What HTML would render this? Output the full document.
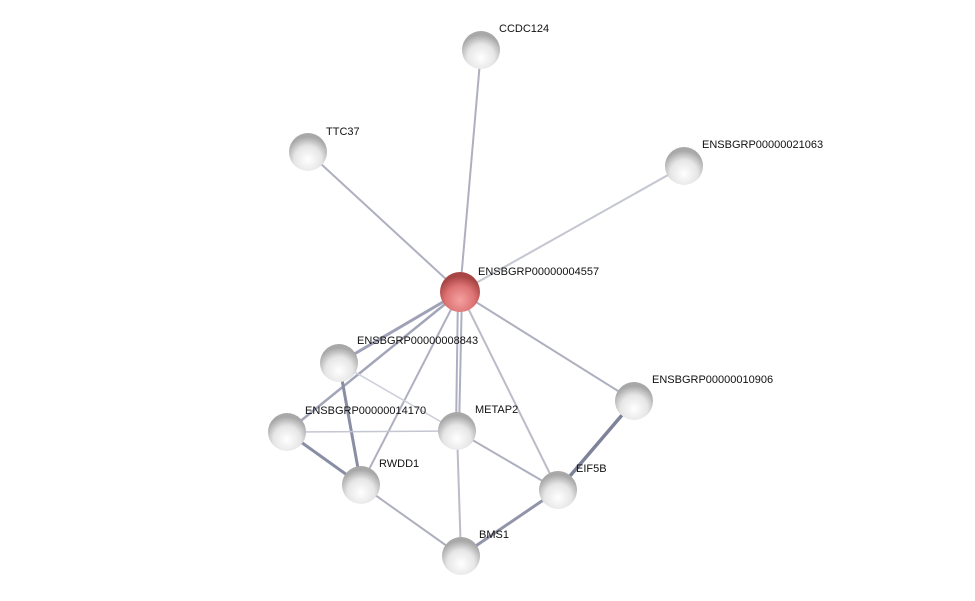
<!DOCTYPE html>
<html><head><meta charset="utf-8"><style>
html,body{margin:0;padding:0;background:#fff;}
svg{display:block;}
text{font-family:"Liberation Sans",sans-serif;font-size:11px;fill:#111;}
</style></head><body>
<svg width="975" height="601" viewBox="0 0 975 601" xmlns="http://www.w3.org/2000/svg">
<defs>
<radialGradient id="g" cx="0.5" cy="0.7" r="0.6">
<stop offset="0" stop-color="#ffffff"/><stop offset="0.6" stop-color="#e6e6e6"/><stop offset="1" stop-color="#a8a8a8"/>
</radialGradient>
<radialGradient id="r" cx="0.5" cy="0.7" r="0.6">
<stop offset="0" stop-color="#f4a0a0"/><stop offset="0.6" stop-color="#dd7373"/><stop offset="1" stop-color="#a84444"/>
</radialGradient>
<linearGradient id="hl" x1="0" y1="0" x2="0" y2="1">
<stop offset="0" stop-color="#fff" stop-opacity="0.9"/><stop offset="1" stop-color="#fff" stop-opacity="0"/>
</linearGradient>
</defs>
<g stroke="#aeb0c0" stroke-width="2" fill="none">
<line x1="460" y1="292" x2="481" y2="50"/>
<line x1="460" y1="292" x2="308" y2="152"/>
<line x1="460" y1="292" x2="684" y2="166" stroke="#c4c6d0"/>
<line x1="460" y1="292" x2="339" y2="363" stroke-width="3" stroke="#9fa2b6"/>
<line x1="460" y1="292" x2="287" y2="432" stroke-width="2.5" stroke="#a2a5b8"/>
<line x1="460" y1="292" x2="361" y2="485"/>
<line x1="458" y1="292" x2="456" y2="431" stroke-width="2"/>
<line x1="462" y1="292" x2="459" y2="431" stroke-width="2"/>
<line x1="460" y1="292" x2="558" y2="490" stroke="#babcc8"/>
<line x1="460" y1="292" x2="634" y2="401"/>
<line x1="339" y1="363" x2="361" y2="485" stroke-width="3" stroke="#8a8ea4"/>
<line x1="339" y1="363" x2="457" y2="431" stroke="#ccced8" stroke-width="1.5"/>
<line x1="287" y1="432" x2="457" y2="431" stroke="#c4c6d2" stroke-width="1.5"/>
<line x1="287" y1="432" x2="361" y2="485" stroke-width="3" stroke="#8a8ea4"/>
<line x1="361" y1="485" x2="461" y2="556"/>
<line x1="457" y1="431" x2="461" y2="556" stroke="#babcc8"/>
<line x1="457" y1="431" x2="558" y2="490"/>
<line x1="558" y1="490" x2="461" y2="556" stroke-width="3" stroke="#9295aa"/>
<line x1="558" y1="490" x2="634" y2="401" stroke-width="3.5" stroke="#7f8399"/>
</g>
<g>
<circle cx="481" cy="50" r="19" fill="url(#g)"/>
<circle cx="308" cy="152" r="19" fill="url(#g)"/>
<circle cx="684" cy="166" r="19" fill="url(#g)"/>
<circle cx="460" cy="292" r="20" fill="url(#r)"/>
<circle cx="339" cy="363" r="19" fill="url(#g)"/>
<circle cx="634" cy="401" r="19" fill="url(#g)"/>
<circle cx="287" cy="432" r="19" fill="url(#g)"/>
<circle cx="457" cy="431" r="19" fill="url(#g)"/>
<circle cx="361" cy="485" r="19" fill="url(#g)"/>
<circle cx="558" cy="490" r="19" fill="url(#g)"/>
<circle cx="461" cy="556" r="19" fill="url(#g)"/>
</g>
<g>
<text x="499" y="32">CCDC124</text>
<text x="326" y="135">TTC37</text>
<text x="702" y="148">ENSBGRP00000021063</text>
<text x="478" y="275">ENSBGRP00000004557</text>
<text x="357" y="344">ENSBGRP00000008843</text>
<text x="652" y="383">ENSBGRP00000010906</text>
<text x="305" y="414">ENSBGRP00000014170</text>
<text x="475" y="413">METAP2</text>
<text x="379" y="467">RWDD1</text>
<text x="576" y="472">EIF5B</text>
<text x="479" y="538">BMS1</text>
</g>
</svg>
</body></html>
